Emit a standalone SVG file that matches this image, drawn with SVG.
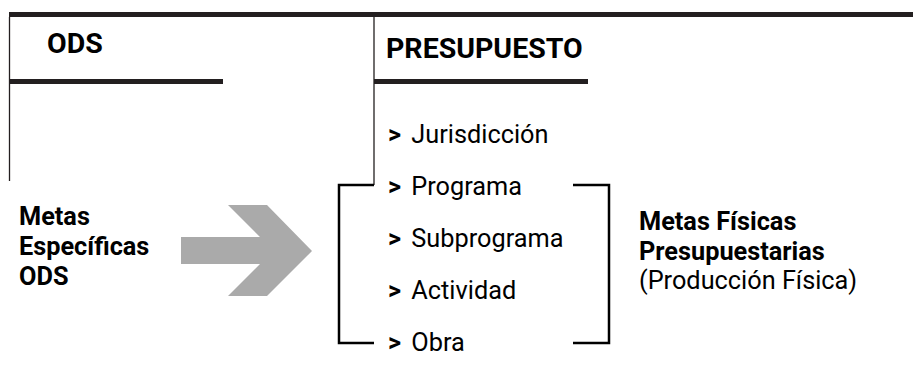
<svg xmlns="http://www.w3.org/2000/svg" width="913" height="392" viewBox="0 0 913 392">
<style>
  .bar{stroke:#231f20;stroke-width:5;fill:none}
  .thin{stroke:#231f20;stroke-width:1.3;fill:none}
  .br{stroke:#000;stroke-width:2.5;fill:none}
  .h{font-family:Roboto,"Liberation Sans",sans-serif;font-weight:700;font-size:28.5px;fill:#000}
  .t{font-family:Roboto,"Liberation Sans",sans-serif;font-size:25.3px;fill:#000}
  .b{font-weight:700}
</style>
<rect width="913" height="392" fill="#fff"/>
<g id="frame">
  <line class="bar" x1="9" y1="14.5" x2="913" y2="14.5"/>
  <line class="thin" x1="9.5" y1="17" x2="9.5" y2="181"/>
  <line class="bar" x1="9" y1="81.5" x2="223" y2="81.5"/>
  <line class="bar" x1="374" y1="81.5" x2="588" y2="81.5"/>
</g>
<g id="ods">
  <text class="h" x="47" y="53">ODS</text>
</g>
<g id="presupuesto">
  <text class="h" x="386" y="58">PRESUPUESTO</text>
  <text class="t" x="388" y="143"><tspan class="b">&gt;</tspan><tspan dx="4"> Jurisdicción</tspan></text>
  <text class="t" x="388" y="195"><tspan class="b">&gt;</tspan><tspan dx="4"> Programa</tspan></text>
  <text class="t" x="388" y="247"><tspan class="b">&gt;</tspan><tspan dx="4"> Subprograma</tspan></text>
  <text class="t" x="388" y="299"><tspan class="b">&gt;</tspan><tspan dx="4"> Actividad</tspan></text>
  <text class="t" x="388" y="351"><tspan class="b">&gt;</tspan><tspan dx="4"> Obra</tspan></text>
</g>
<g id="metas-ods">
  <text class="t b" x="19" y="225">Metas</text>
  <text class="t b" x="19" y="255">Específicas</text>
  <text class="t b" x="19" y="285">ODS</text>
</g>
<g id="metas-fisicas">
  <text class="t b" x="639" y="230">Metas Físicas</text>
  <text class="t b" x="639" y="260">Presupuestarias</text>
  <text class="t" x="639" y="289">(Producción Física)</text>
</g>
<g id="connectors">
  <polyline class="thin" points="374,17 374,185"/>
  <polyline class="br" points="374,185 339,185 339,343 374,343"/>
  <polyline class="br" points="573,185 609,185 609,343 573,343"/>
  <polygon fill="#aaaaaa" points="181,237 260,237 228,205 267,205 312,251 267,296 228,296 260,264 181,264"/>
</g>
</svg>
